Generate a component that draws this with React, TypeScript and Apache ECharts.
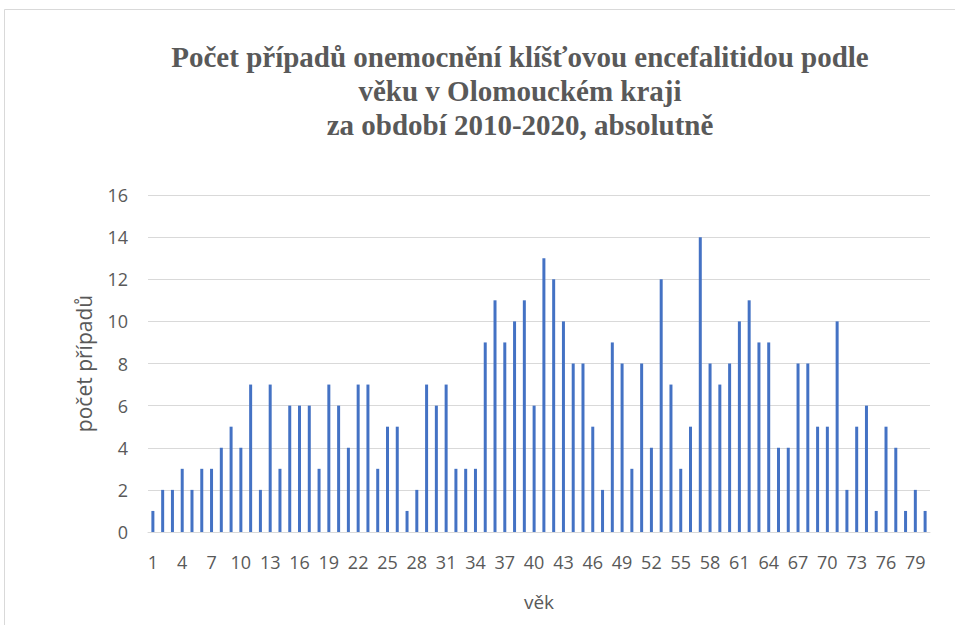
import React, { useEffect, useRef } from "react";
import * as echarts from "echarts";

const titleLines = [
  "Počet případů onemocnění klíšťovou encefalitidou podle",
  "věku v Olomouckém kraji",
  "za období 2010-2020, absolutně",
];
const ages: string[] = Array.from({ length: 80 }, (_, i) => String(i + 1));
const cases: number[] = [
  1, 2, 2, 3, 2, 3, 3, 4, 5, 4,
  7, 2, 7, 3, 6, 6, 6, 3, 7, 6,
  4, 7, 7, 3, 5, 5, 1, 2, 7, 6,
  7, 3, 3, 3, 9, 11, 9, 10, 11, 6,
  13, 12, 10, 8, 8, 5, 2, 9, 8, 3,
  8, 4, 12, 7, 3, 5, 14, 8, 7, 8,
  10, 11, 9, 9, 4, 4, 8, 8, 5, 5,
  10, 2, 5, 6, 1, 5, 4, 1, 2, 1,
];
const yAxisName = "počet případů";
const xAxisName = "věk";

export default function App() {
  const ref = useRef<HTMLDivElement>(null);
  useEffect(() => {
    if (!ref.current) return;
    const chart = echarts.init(ref.current, undefined, { renderer: "svg" });
    chart.setOption({
      animation: false,
      backgroundColor: "#ffffff",
      graphic: [
        {
          type: "rect",
          shape: { x: 4.5, y: 9.5, width: 1000, height: 700 },
          style: { fill: "none", stroke: "#d9d9d9", lineWidth: 1 },
          silent: true,
        },
      ],
      title: {
        text: titleLines.join("\n"),
        left: 515,
        textAlign: "center",
        top: 35,
        textStyle: {
          fontFamily: "Liberation Serif",
          fontWeight: "bold",
          fontSize: 29,
          lineHeight: 34,
          color: "#595959",
        },
      },
      grid: { left: 148, right: 25, top: 195, bottom: 93 },
      xAxis: {
        type: "category",
        data: ages,
        name: xAxisName,
        nameLocation: "middle",
        nameGap: 60,
        nameTextStyle: { fontFamily: "Open Sans", fontSize: 19, color: "#595959" },
        axisLine: { lineStyle: { color: "#d9d9d9" } },
        axisTick: { show: false },
        axisLabel: {
          interval: 2,
          fontFamily: "Open Sans",
          fontSize: 18,
          color: "#595959",
          margin: 21,
        },
      },
      yAxis: {
        type: "value",
        min: 0,
        max: 16,
        interval: 2,
        name: yAxisName,
        nameLocation: "middle",
        nameGap: 54,
        nameTextStyle: { fontFamily: "Open Sans", fontSize: 21, color: "#595959" },
        axisLine: { show: false },
        axisTick: { show: false },
        splitLine: { lineStyle: { color: "#d9d9d9", width: 1 } },
        axisLabel: {
          fontFamily: "Open Sans",
          fontSize: 18,
          color: "#595959",
          margin: 20,
        },
      },
      series: [
        {
          type: "bar",
          data: cases,
          barWidth: 3,
          itemStyle: { color: "#4472C4" },
        },
      ],
    });
    return () => chart.dispose();
  }, []);
  return (
    <div
      ref={ref}
      style={{ position: "fixed", left: 0, top: 0, width: 955, height: 625 }}
    />
  );
}
